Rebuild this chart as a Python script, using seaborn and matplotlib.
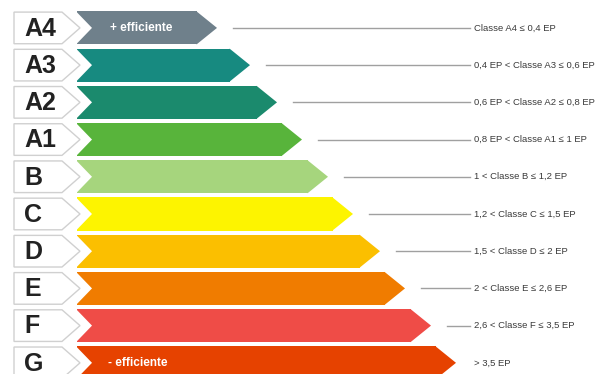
import matplotlib
matplotlib.use("Agg")
import matplotlib.pyplot as plt
from matplotlib.patches import Polygon
import seaborn as sns

# energy classes, top (most efficient) to bottom
classes = ['A4', 'A3', 'A2', 'A1', 'B', 'C', 'D', 'E', 'F', 'G']
# tip position of each arrow (px)
arrow_tip = [217, 250, 277, 302, 328, 353, 380, 405, 431, 456]
thresholds = [
    'Classe A4 ≤ 0,4 EP',
    '0,4 EP < Classe A3 ≤ 0,6 EP',
    '0,6 EP < Classe A2 ≤ 0,8 EP',
    '0,8 EP < Classe A1 ≤ 1 EP',
    '1 < Classe B ≤ 1,2 EP',
    '1,2 < Classe C ≤ 1,5 EP',
    '1,5 < Classe D ≤ 2 EP',
    '2 < Classe E ≤ 2,6 EP',
    '2,6 < Classe F ≤ 3,5 EP',
    '> 3,5 EP',
]
colors = ['#6f808b', '#178a80', '#1b8a6d', '#58b43b', '#a6d57d',
          '#fdf400', '#fbbf00', '#f07c00', '#ef4c47', '#e64200']

bar_start = 77
tip_len = 20
notch = 15
row_h = 0.89

fig = plt.figure(figsize=(6.12, 3.74), dpi=100)
ax = fig.add_axes([0, 0, 1, 1])

body = [t - tip_len - bar_start for t in arrow_tip]
sns.barplot(x=body, y=classes, hue=classes, palette=colors, legend=False,
            orient='h', width=row_h, saturation=1, left=bar_start, linewidth=0, ax=ax)

for i, (c, tip, col, lab) in enumerate(zip(classes, arrow_tip, colors, thresholds)):
    top, bot = i - row_h / 2, i + row_h / 2
    end = tip - tip_len
    # arrow head
    ax.add_patch(Polygon([(end - 0.5, top), (tip, i), (end - 0.5, bot)], closed=True,
                         fc=col, ec='none', zorder=3))
    # notch at the tail
    ax.add_patch(Polygon([(bar_start - 1, top), (bar_start + notch, i), (bar_start - 1, bot)],
                         closed=True, fc='white', ec='none', zorder=3))
    # letter tab
    ax.add_patch(Polygon([(14, top + 0.02), (62, top + 0.02), (80, i), (62, bot - 0.02), (14, bot - 0.02)],
                         closed=True, fc='white', ec='#d0d0d0', lw=1, zorder=4))
    ax.text(24, i + 0.02, c, fontsize=18, fontweight='bold', family='Liberation Sans',
            color='#222222', va='center', ha='left', zorder=5)
    # leader line and label
    if tip + 16 < 465:
        ax.plot([tip + 16, 470], [i, i], color='#a0a0a0', lw=1, zorder=2)
    ax.text(474, i, lab, fontsize=6.8, family='Liberation Sans', color='#3a3a3a',
            va='center', ha='left', zorder=5)

ax.text(110, 0, '+ efficiente', fontsize=8.5, fontweight='bold', family='Liberation Sans',
        color='white', va='center', ha='left', zorder=5)
ax.text(108, 9, '- efficiente', fontsize=8.5, fontweight='bold', family='Liberation Sans',
        color='white', va='center', ha='left', zorder=5)

ax.set_xlim(0, 612)
ax.set_ylim(9.3, -0.75)
ax.axis('off')

fig.savefig('out.png', dpi=100)
